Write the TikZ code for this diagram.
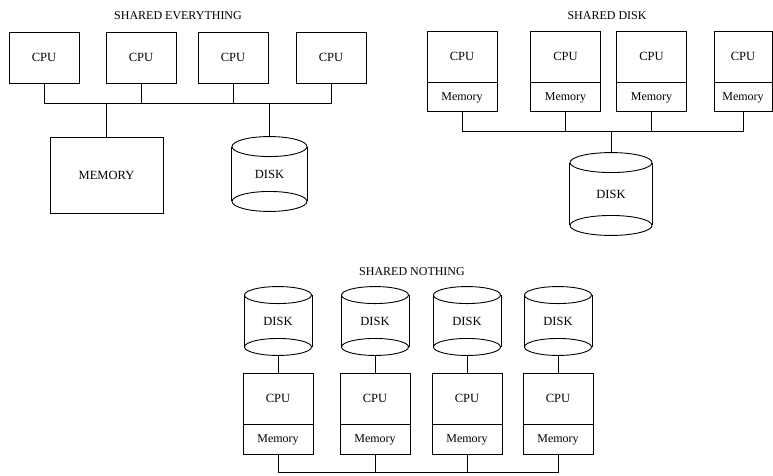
\documentclass[tikz,border=0pt]{standalone}
\usepackage{fontspec}
\setmainfont{Liberation Serif}
\usetikzlibrary{positioning}
\begin{document}
\begin{tikzpicture}[x=1pt,y=-1pt,line width=0.9pt,draw=black!100,node distance=0pt]
	\def \cpurowa{57.5}
	\def \cpurowb{56.5}
	\def \busa{103}
	\def \busb{131}
	\def \busc{472}
	\tikzstyle{cpu-node}=[rectangle,draw=black!100,inner sep=0pt,minimum width=70pt,minimum height=51pt,font=\fontsize{12.5}{13}\selectfont]
	\tikzstyle{mem-node}=[rectangle,draw=black!100,inner sep=0pt,minimum width=70pt,minimum height=29pt,font=\fontsize{12}{13}\selectfont]
	\tikzstyle{big-mem}=[rectangle,draw=black!100,inner sep=0pt,minimum width=113pt,minimum height=76pt,font=\fontsize{12.5}{13}\selectfont]
	\tikzstyle{disk-node}=[rectangle,inner sep=0pt,font=\fontsize{12.5}{13}\selectfont]
	\tikzstyle{title}=[inner sep=0pt,font=\fontsize{12}{13}\selectfont]
	% #1 node, #2 x radius, #3 y radius
	\def\drawdisk#1#2#3{%
		\draw ([yshift=-#3]#1.north) ellipse [x radius=#2, y radius=#3];
		\draw ([yshift=#3]#1.south) ellipse [x radius=#2, y radius=#3];
		\draw ([yshift=-#3]#1.north west) -- ([yshift=#3]#1.south west);
		\draw ([yshift=-#3]#1.north east) -- ([yshift=#3]#1.south east);
	}
	\useasboundingbox (0,0) rectangle (773,475);

	% shared everything
	\node[title] 	(se-title)	at (178,16)		{SHARED EVERYTHING};
	\node[cpu-node] 	(se1)	at (44,\cpurowa)	{CPU};
	\node[cpu-node] 	(se2)	at (141,\cpurowa)	{CPU};
	\node[cpu-node] 	(se3)	at (233,\cpurowa)	{CPU};
	\node[cpu-node] 	(se4)	at (331,\cpurowa)	{CPU};
	\node[big-mem] 	(se-mem)	at (106.5,175)	{MEMORY};
	\node[disk-node,minimum width=75pt,minimum height=74pt] 	(se-disk)	at (269.5,174)	{DISK};
	\coordinate (se-bus) at (0,\busa);
	\drawdisk{se-disk}{37.5pt}{10pt}

	% shared disk
	\node[title] 	(sd-title)	at (607,16)		{SHARED DISK};
	\node[cpu-node] 	(sd1)	at (462,\cpurowb)	{CPU};
	\node[cpu-node] 	(sd2)	at (565.5,\cpurowb)	{CPU};
	\node[cpu-node] 	(sd3)	at (651.5,\cpurowb)	{CPU};
	\node[cpu-node,minimum width=58pt] 	(sd4)	at (743,\cpurowb)	{CPU};
	\node[mem-node,below=of sd1] 	(sd1m)	{Memory};
	\node[mem-node,below=of sd2] 	(sd2m)	{Memory};
	\node[mem-node,below=of sd3] 	(sd3m)	{Memory};
	\node[mem-node,minimum width=58pt,below=of sd4] 	(sd4m)	{Memory};
	\node[disk-node,minimum width=82pt,minimum height=82pt] 	(sd-disk)	at (611,194)	{DISK};
	\coordinate (sd-bus) at (0,\busb);
	\drawdisk{sd-disk}{41pt}{10pt}

	% shared nothing
	\node[title] 	(sn-title)	at (412,272)	{SHARED NOTHING};
	\node[disk-node,minimum width=67pt,minimum height=68pt] 	(sn1d)	at (278,321)	{DISK};
	\node[disk-node,minimum width=67pt,minimum height=68pt] 	(sn2d)	at (375,321)	{DISK};
	\node[disk-node,minimum width=67pt,minimum height=68pt] 	(sn3d)	at (467,321)	{DISK};
	\node[disk-node,minimum width=67pt,minimum height=68pt] 	(sn4d)	at (558,321)	{DISK};
	\node[cpu-node] 	(sn1)	at (278,398.5)	{CPU};
	\node[cpu-node] 	(sn2)	at (375,398.5)	{CPU};
	\node[cpu-node] 	(sn3)	at (467,398.5)	{CPU};
	\node[cpu-node] 	(sn4)	at (558,398.5)	{CPU};
	\node[mem-node,minimum height=30pt,below=of sn1] 	(sn1m)	{Memory};
	\node[mem-node,minimum height=30pt,below=of sn2] 	(sn2m)	{Memory};
	\node[mem-node,minimum height=30pt,below=of sn3] 	(sn3m)	{Memory};
	\node[mem-node,minimum height=30pt,below=of sn4] 	(sn4m)	{Memory};
	\coordinate (sn-bus) at (0,\busc);
	\drawdisk{sn1d}{33.5pt}{8.5pt}
	\drawdisk{sn2d}{33.5pt}{8.5pt}
	\drawdisk{sn3d}{33.5pt}{8.5pt}
	\drawdisk{sn4d}{33.5pt}{8.5pt}

	% buses
	\draw (se1.south) |- (se-bus -| se4.south) -- (se4.south);
	\draw (se2.south) -- (se2.south |- se-bus);
	\draw (se3.south) -- (se3.south |- se-bus);
	\draw (se-mem.north) -- (se-mem.north |- se-bus);
	\draw (se-disk.north) -- (se-disk.north |- se-bus);

	\draw (sd1m.south) |- (sd-bus -| sd4m.south) -- (sd4m.south);
	\draw (sd2m.south) -- (sd2m.south |- sd-bus);
	\draw (sd3m.south) -- (sd3m.south |- sd-bus);
	\draw (sd-disk.north) -- (sd-disk.north |- sd-bus);

	\draw (sn1d.south) -- (sn1.north);
	\draw (sn2d.south) -- (sn2.north);
	\draw (sn3d.south) -- (sn3.north);
	\draw (sn4d.south) -- (sn4.north);
	\draw (sn1m.south) |- (sn-bus -| sn4m.south) -- (sn4m.south);
	\draw (sn2m.south) -- (sn2m.south |- sn-bus);
	\draw (sn3m.south) -- (sn3m.south |- sn-bus);
\end{tikzpicture}
\end{document}
